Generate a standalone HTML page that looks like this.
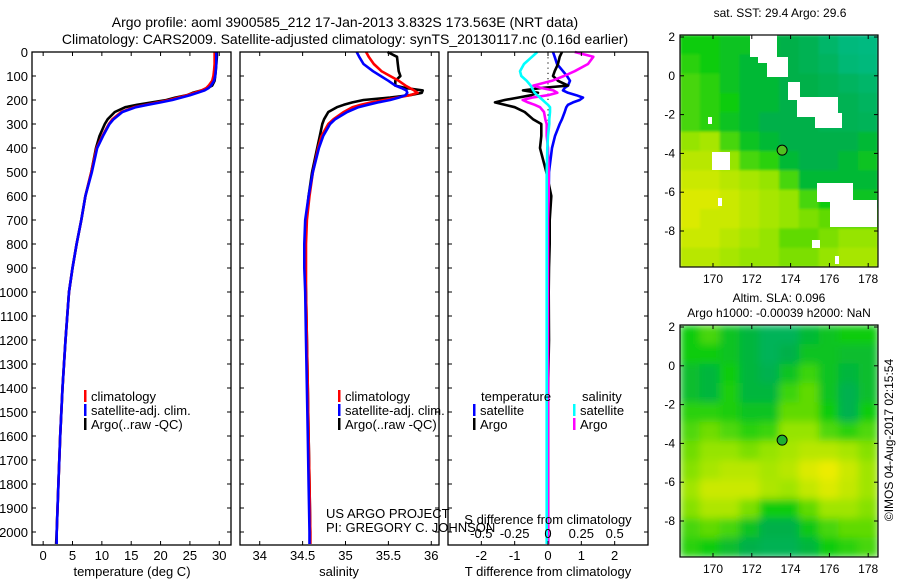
<!DOCTYPE html>
<html><head><meta charset="utf-8"><style>
html,body{margin:0;padding:0;background:#fff;}
svg{display:block;font-family:"Liberation Sans",sans-serif;}
</style></head><body>
<svg id="fig" width="900" height="580" viewBox="0 0 900 580" xmlns="http://www.w3.org/2000/svg">
<defs>
<filter id="blurB" x="0" y="0" width="1" height="1"><feGaussianBlur stdDeviation="4" edgeMode="duplicate"/></filter>
<filter id="blurT" x="0" y="0" width="1" height="1"><feGaussianBlur stdDeviation="1.2" edgeMode="duplicate"/></filter>
<clipPath id="clipT"><rect x="680" y="35" width="198" height="232"/></clipPath>
<clipPath id="clipB"><rect x="680" y="325" width="198" height="232"/></clipPath>
</defs>
<text x="345" y="27" font-size="14" text-anchor="middle">Argo profile: aoml 3900585_212 17-Jan-2013 3.832S 173.563E (NRT data)</text>
<text x="345" y="44" font-size="14" text-anchor="middle">Climatology: CARS2009. Satellite-adjusted climatology: synTS_20130117.nc (0.16d earlier)</text>
<g id="plots"></g>
<text x="780" y="17" font-size="12" text-anchor="middle">sat. SST: 29.4 Argo: 29.6</text>
<text x="779" y="302" font-size="12" text-anchor="middle">Altim. SLA: 0.096</text>
<text x="779" y="317" font-size="12" text-anchor="middle">Argo h1000: -0.00039 h2000: NaN</text>
<text transform="translate(893,440) rotate(-90)" font-size="12" text-anchor="middle">©IMOS 04-Aug-2017 02:15:54</text>
</svg>
<script>
const depths=[0,20,50,80,100,120,140,150,160,170,180,190,200,210,220,230,250,280,300,350,400,500,600,700,800,900,1000,1200,1400,1600,1800,2000,2050];
const tempClim=[29.2,29.2,29.2,29.1,29.0,28.8,28.2,27.8,27.0,25.8,24.5,23.0,21.5,19.5,17.5,15.5,13.3,11.8,11.2,10.1,9.1,8.2,7.2,6.5,5.7,5.0,4.4,3.8,3.3,2.9,2.6,2.3,2.3];
const tempSat=[29.5,29.5,29.5,29.4,29.3,29.1,28.6,28.2,27.5,26.3,25.0,23.5,22.0,20.0,17.8,15.8,13.5,12.0,11.3,10.2,9.2,8.3,7.2,6.5,5.7,5.0,4.4,3.8,3.3,2.9,2.6,2.3,2.3];
const tempArgo=[29.6,29.6,29.5,29.4,29.3,29.2,28.8,28.0,27.0,25.5,24.5,22.5,21.0,18.5,16.0,14.0,12.2,11.0,10.5,9.6,9.0,8.2,7.2,6.5,5.7,5.0,4.4,3.8,3.3,2.9,2.6,2.3,2.2];
const salClim=[35.24,35.27,35.33,35.42,35.52,35.62,35.70,35.75,35.80,35.84,35.75,35.6,35.45,35.3,35.18,35.08,34.98,34.86,34.80,34.72,34.68,34.62,34.58,34.55,34.54,34.54,34.54,34.55,34.56,34.57,34.58,34.59,34.59];
const salSat=[35.13,35.16,35.21,35.32,35.41,35.5,35.58,35.65,35.71,35.72,35.70,35.62,35.52,35.38,35.26,35.15,35.02,34.88,34.82,34.74,34.69,34.62,34.57,34.53,34.52,34.52,34.53,34.54,34.55,34.56,34.57,34.58,34.58];
const salArgo=[35.49,35.60,35.61,35.62,35.64,35.58,35.58,35.7,35.9,35.89,35.75,35.52,35.21,35.08,34.98,34.9,34.8,34.75,34.73,34.70,34.67,34.61,34.57,34.54,34.53,34.53,34.54,34.55,34.56,34.57,34.58,34.59,34.59];
const dTempSat=[0.15,0.2,0.27,0.45,0.57,0.66,0.6,0.5,0.45,0.6,0.85,1.05,0.95,0.75,0.6,0.55,0.5,0.42,0.35,0.21,0.12,0.03,0.02,0,0,0,0,0,0,0,0,0,0];
const dTempArgo=[0.42,0.35,0.3,0.2,0.15,0.3,0.6,-0.2,-0.75,-0.3,-0.5,-0.9,-1.3,-1.59,-1.3,-1.0,-0.7,-0.45,-0.2,-0.2,-0.24,-0.05,0.1,0.05,0.05,0.03,0.02,0.03,0,0,0,0,0];
const dSalArgo=[0.2,0.34,0.3,0.2,0.12,0.03,-0.11,-0.05,0.04,0.07,0.0,-0.12,-0.19,-0.15,-0.1,-0.06,-0.03,-0.02,-0.01,-0.01,0,0.005,0.005,0,0,0,0,0,0,0,0,0,0];
const dSalSat=[-0.08,-0.12,-0.18,-0.21,-0.2,-0.16,-0.13,-0.12,-0.11,-0.1,-0.08,-0.06,-0.04,-0.02,0.0,0.015,0.015,0.01,0.01,0.0,-0.005,-0.01,-0.01,-0.01,-0.01,-0.01,-0.01,-0.01,-0.01,-0.01,-0.01,-0.01,-0.01];
const depthTicks=[0,100,200,300,400,500,600,700,800,900,1000,1100,1200,1300,1400,1500,1600,1700,1800,1900,2000];
const tempTicks=[0,5,10,15,20,25,30];
const salTicks=[34,34.5,35,35.5,36];
const salTickLabels=["34","34.5","35","35.5","36"];
const dTempTicks=[-2,-1,0,1,2];
const dSalTicks=[-0.5,-0.25,0,0.25,0.5];
const dSalTickLabels=["-0.5","-0.25","0","0.25","0.5"];
const sstGrid=[
[0.5,0.5,0.45,0.45,0.4,0.35,0.3,0.2,0.12,0.1],
[0.55,0.5,0.45,0.4,0.4,0.35,0.3,0.25,0.15,0.12],
[0.6,0.55,0.45,0.4,0.4,0.35,0.35,0.3,0.25,0.2],
[0.6,0.55,0.5,0.4,0.4,0.35,0.35,0.3,0.3,0.25],
[0.6,0.55,0.45,0.4,0.35,0.35,0.35,0.3,0.3,0.28],
[0.75,0.8,0.6,0.45,0.4,0.35,0.35,0.35,0.35,0.4],
[0.85,0.85,0.75,0.6,0.55,0.4,0.35,0.35,0.4,0.45],
[0.9,0.9,0.85,0.8,0.75,0.6,0.4,0.4,0.4,0.4],
[0.95,0.95,0.9,0.85,0.8,0.75,0.6,0.5,0.45,0.45],
[0.95,0.9,0.9,0.85,0.8,0.75,0.7,0.65,0.6,0.6],
[0.9,0.9,0.85,0.8,0.75,0.65,0.65,0.7,0.75,0.75],
[0.85,0.85,0.8,0.75,0.75,0.7,0.7,0.75,0.8,0.8]];
const slaGrid=[
[0.5,0.6,0.45,0.38,0.28,0.28,0.4,0.45,0.5,0.5],
[0.5,0.5,0.45,0.38,0.28,0.35,0.45,0.45,0.42,0.42],
[0.42,0.38,0.5,0.38,0.32,0.45,0.58,0.45,0.38,0.42],
[0.42,0.38,0.52,0.38,0.38,0.58,0.65,0.45,0.32,0.42],
[0.55,0.55,0.52,0.45,0.45,0.65,0.65,0.5,0.32,0.5],
[0.62,0.68,0.62,0.55,0.58,0.75,0.75,0.62,0.55,0.62],
[0.68,0.75,0.75,0.7,0.75,0.8,0.85,0.85,0.8,0.72],
[0.72,0.8,0.85,0.85,0.8,0.85,0.95,1.0,0.9,0.78],
[0.78,0.9,0.9,0.9,0.82,0.78,0.88,0.95,0.88,0.78],
[0.72,0.82,0.82,0.7,0.5,0.5,0.65,0.78,0.78,0.72],
[0.6,0.65,0.6,0.45,0.35,0.35,0.48,0.6,0.65,0.65],
[0.55,0.5,0.42,0.35,0.3,0.3,0.38,0.5,0.55,0.6]];
const lonTicks=[170,172,174,176,178];
const latTicks=[2,0,-2,-4,-6,-8];
const floatLon=173.563, floatLat=-3.832;

const NS="http://www.w3.org/2000/svg";
const root=document.getElementById('plots');
function mk(tag,attrs,parent){const e=document.createElementNS(NS,tag);for(const k in attrs)e.setAttribute(k,attrs[k]);(parent||root).appendChild(e);return e;}
const Y0=52,YK=0.24,YB=545;
const yD=d=>Y0+d*YK;
const panels=[
 {x0:32,x1:231,min:-1.9,max:32},
 {x0:240,x1:439,min:33.77,max:36.09},
 {x0:448,x1:648,min:-3,max:3}
];
function sx(p,v){return p.x0+(v-p.min)/(p.max-p.min)*(p.x1-p.x0);}
function line(p,vals,color,name,scale){
  scale=scale||1;
  const pts=vals.map((v,i)=>sx(p,v*scale).toFixed(1)+","+yD(depths[i]).toFixed(1)).join(" ");
  const e=mk('polyline',{points:pts,fill:'none',stroke:color,'stroke-width':2.6,'stroke-linejoin':'round'});
  
  
}
function frame(p,name){
  const e=mk('rect',{x:p.x0,y:Y0,width:p.x1-p.x0,height:YB-Y0,fill:'none',stroke:'#000','stroke-width':1.3});
  
  
}
function xticks(p,ticks,labels,scale,name){
  scale=scale||1;
  ticks.forEach((t,i)=>{
    const x=sx(p,t*scale);
    mk('line',{x1:x,x2:x,y1:YB,y2:YB-4,stroke:'#000'});
    mk('line',{x1:x,x2:x,y1:Y0,y2:Y0+4,stroke:'#000'});
    const e=mk('text',{x:x,y:560,'font-size':13,'text-anchor':'middle'});
    e.textContent=labels?labels[i]:String(t);
    
    
  });
}
depthTicks.forEach(d=>{
  const e=mk('text',{x:28,y:yD(d)+5,'font-size':13,'text-anchor':'end'});
  e.textContent=String(d);
  
  
  panels.forEach(p=>{
    mk('line',{x1:p.x0,x2:p.x0+4,y1:yD(d),y2:yD(d),stroke:'#000'});
    mk('line',{x1:p.x1,x2:p.x1-4,y1:yD(d),y2:yD(d),stroke:'#000'});
  });
});
line(panels[0],tempArgo,'#000','temp-argo-line');
line(panels[0],tempClim,'#f00','temp-clim-line');
line(panels[0],tempSat,'#00f','temp-sat-line');
frame(panels[0],'temperature-panel');
xticks(panels[0],tempTicks,null,1,'temperature-tick-label');
line(panels[1],salArgo,'#000','sal-argo-line');
line(panels[1],salClim,'#f00','sal-clim-line');
line(panels[1],salSat,'#00f','sal-sat-line');
frame(panels[1],'salinity-panel');
xticks(panels[1],salTicks,salTickLabels,1,'salinity-tick-label');
const zx=sx(panels[2],0);
mk('line',{x1:zx,x2:zx,y1:Y0,y2:YB,stroke:'#000','stroke-dasharray':'1.2,4'});
line(panels[2],dTempSat,'#00f','dtemp-sat-line');
line(panels[2],dTempArgo,'#000','dtemp-argo-line');
line(panels[2],dSalArgo,'#f0f','dsal-argo-line',4);
line(panels[2],dSalSat,'#0ff','dsal-sat-line',4);
frame(panels[2],'difference-panel');
xticks(panels[2],dTempTicks,null,1,'dtemp-tick-label');
dSalTicks.forEach((t,i)=>{
  const e=mk('text',{x:sx(panels[2],t*4),y:538,'font-size':13,'text-anchor':'middle'});
  e.textContent=dSalTickLabels[i];
  
  
});
function txt(x,y,s,name,size,anchor){const e=mk('text',{x:x,y:y,'font-size':size||13,'text-anchor':anchor||'start'});e.textContent=s;return e;}
txt(132,576,'temperature (deg C)','temperature-axis-title',13,'middle');
txt(339,576,'salinity','salinity-axis-title',13,'middle');
txt(548,576,'T difference from climatology','dtemp-axis-title',13,'middle');
txt(548,524,'S difference from climatology','dsal-axis-title',13,'middle');
txt(326,518,'US ARGO PROJECT','project-label');
txt(326,532,'PI: GREGORY C. JOHNSON','pi-label');
function legItem(x,y,color,label,name){
  const b=mk('rect',{x:x,y:y-11,width:2.5,height:12,fill:color});
  
  txt(x+7,y,label,name);
}
[[0,'#f00','climatology'],[1,'#00f','satellite-adj. clim.'],[2,'#000','Argo(..raw -QC)']].forEach(a=>{
  legItem(84,401+a[0]*14,a[1],a[2],'legend-entry');
  legItem(338,401+a[0]*14,a[1],a[2],'legend-entry');
});
txt(481,401,'temperature','legend-temperature-header');
txt(582,401,'salinity','legend-salinity-header');
legItem(473,415,'#00f','satellite','legend-entry');
legItem(473,429,'#000','Argo','legend-entry');
legItem(573,415,'#0ff','satellite','legend-entry');
legItem(573,429,'#f0f','Argo','legend-entry');

const stops=[[0,[0,190,150]],[0.35,[0,176,72]],[0.5,[16,204,16]],[0.75,[150,228,0]],[1,[236,236,0]]];
function cmap(v){for(let i=1;i<stops.length;i++){if(v<=stops[i][0]){const a=stops[i-1],b=stops[i],t=(v-a[0])/(b[0]-a[0]);return 'rgb('+a[1].map((c,k)=>Math.round(c+(b[1][k]-c)*t)).join(',')+')';}}return 'rgb(236,236,0)';}
function drawMap(grid,top,clip,filt,name){
  const L=680,R=878,T=top,H=232;
  const lx=lon=>713+(lon-170)*19.4;
  const ly=lat=>top+2+(2-lat)*19.4;
  const g=mk('g',{'clip-path':'url(#'+clip+')'});
  
  
  const gi=mk('g',{filter:'url(#'+filt+')'},g);
  const cw=(R-L)/grid[0].length, ch=H/grid.length;
  grid.forEach((row,r)=>row.forEach((v,c)=>{
    const e=mk('rect',{x:(L+c*cw).toFixed(1),y:(T+r*ch).toFixed(1),width:(cw+0.6).toFixed(1),height:(ch+0.6).toFixed(1),fill:cmap(v)},gi);
    
    
  }));
  return {g,lx,ly,L,R,T,H};
}
function mapAxes(m,name){
  const f=mk('rect',{x:m.L,y:m.T,width:m.R-m.L,height:m.H,fill:'none',stroke:'#000','stroke-width':1.2});
  
  lonTicks.forEach(l=>{const x=m.lx(l);mk('line',{x1:x,x2:x,y1:m.T,y2:m.T+4,stroke:'#000'});mk('line',{x1:x,x2:x,y1:m.T+m.H,y2:m.T+m.H-4,stroke:'#000'});
    txt(x,m.T+m.H+16,String(l),name+'-lon-label',12,'middle');});
  latTicks.forEach(l=>{const y=m.ly(l);mk('line',{x1:m.L,x2:m.L+4,y1:y,y2:y,stroke:'#000'});mk('line',{x1:m.R,x2:m.R-4,y1:y,y2:y,stroke:'#000'});
    txt(m.L-5,y+4,String(l),name+'-lat-label',12,'end');});
}
const mT=drawMap(sstGrid,35,'clipT','blurT','sst-map');
[[750,35,27,22],[758,53,19,10],[767,57,21,20],[788,82,12,18],[797,97,41,20],[815,113,27,15],[712,152,18,18],[817,183,36,19],[830,200,47,27],[708,117,4,7],[718,198,4,8],[812,240,8,8],[835,256,4,8]].forEach(r=>{
  const e=mk('rect',{x:r[0],y:r[1],width:r[2],height:r[3],fill:'#fff'},mT.g);
  
});
const c1=mk('circle',{cx:mT.lx(floatLon),cy:mT.ly(floatLat),r:5,fill:'#50c020',stroke:'#000','stroke-width':1});

mapAxes(mT,'sst-map');
const mB=drawMap(slaGrid,325,'clipB','blurB','sla-map');
const c2=mk('circle',{cx:mB.lx(floatLon),cy:mB.ly(floatLat),r:5,fill:'#20b030',stroke:'#000','stroke-width':1});

mapAxes(mB,'sla-map');
</script>
</body></html>
